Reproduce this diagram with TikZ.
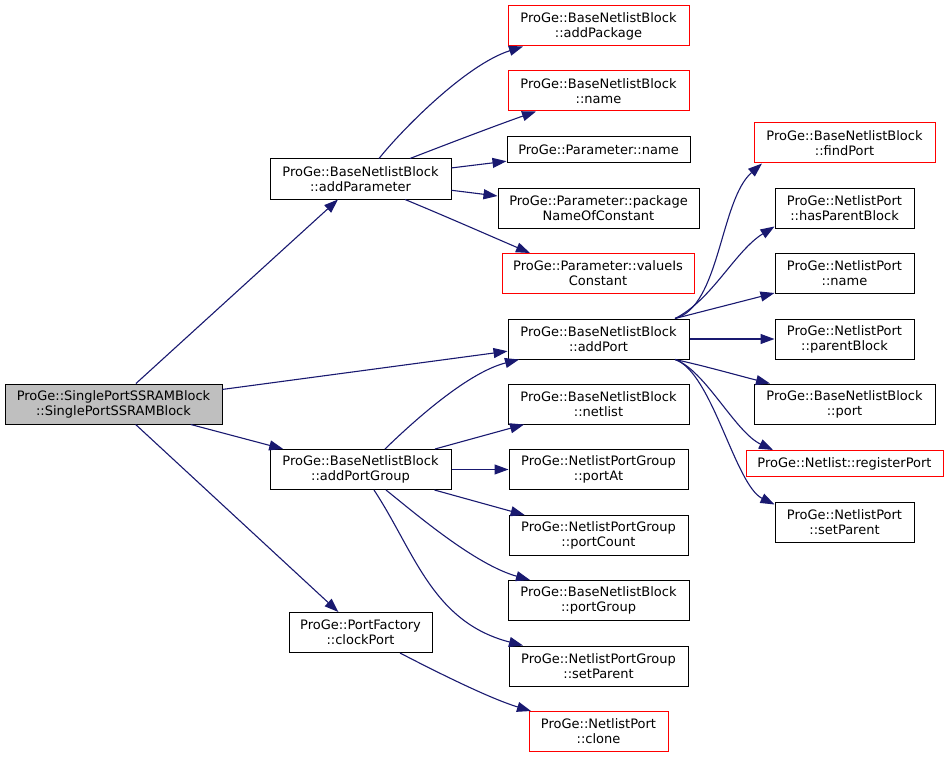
\documentclass[tikz,border=0pt]{standalone}
\usepackage{fontspec}
\setmainfont{DejaVu Sans}
\usetikzlibrary{arrows.meta}
\definecolor{edgeblue}{HTML}{191970}
\definecolor{rootgray}{HTML}{BFBFBF}
\begin{document}
\begin{tikzpicture}[x=1pt,y=-1pt,
  box/.style={draw=black, line width=1pt, fill=white, inner sep=0pt, align=center,
    font=\fontsize{13}{15}\selectfont, minimum height=40pt},
  redbox/.style={box, draw=red},
  rootbox/.style={box, fill=rootgray},
  call/.style={draw=edgeblue, line width=1.1pt, -{Triangle[length=14pt,width=10pt]}}]
\useasboundingbox (0,0) rectangle (948,757);

% column 0
\node[rootbox, minimum width=217pt] (main) at (113.5,404) {ProGe::SinglePortSSRAMBlock\\::SinglePortSSRAMBlock};
% column 1
\node[box, minimum width=181pt] (addParameter) at (360.5,179) {ProGe::BaseNetlistBlock\\::addParameter};
\node[box, minimum width=181pt] (addPortGroup) at (360.5,469.5) {ProGe::BaseNetlistBlock\\::addPortGroup};
\node[box, minimum width=143pt] (clockPort) at (360.5,632.5) {ProGe::PortFactory\\::clockPort};
% column 2
\node[redbox, minimum width=181pt] (addPackage) at (598.5,26) {ProGe::BaseNetlistBlock\\::addPackage};
\node[redbox, minimum width=181pt] (bnbname) at (598.5,91) {ProGe::BaseNetlistBlock\\::name};
\node[box, minimum width=183pt, minimum height=26pt] (paramname) at (598.5,150) {ProGe::Parameter::name};
\node[box, minimum width=201pt] (packageName) at (598.5,208.5) {ProGe::Parameter::package\\NameOfConstant};
\node[redbox, minimum width=192pt] (valueIsConstant) at (598,273.5) {ProGe::Parameter::valueIs\\Constant};
\node[box, minimum width=181pt] (addPort) at (598.5,339) {ProGe::BaseNetlistBlock\\::addPort};
\node[box, minimum width=181pt] (netlist) at (598.5,404) {ProGe::BaseNetlistBlock\\::netlist};
\node[box, minimum width=179pt] (portAt) at (598.5,469.5) {ProGe::NetlistPortGroup\\::portAt};
\node[box, minimum width=179pt] (portCount) at (598.5,535.5) {ProGe::NetlistPortGroup\\::portCount};
\node[box, minimum width=181pt] (portGroup) at (598.5,600.5) {ProGe::BaseNetlistBlock\\::portGroup};
\node[box, minimum width=179pt] (pgsetParent) at (598.5,666) {ProGe::NetlistPortGroup\\::setParent};
\node[redbox, minimum width=139pt] (clone) at (598.5,731.5) {ProGe::NetlistPort\\::clone};
% column 3
\node[redbox, minimum width=181pt] (findPort) at (844.5,143) {ProGe::BaseNetlistBlock\\::findPort};
\node[box, minimum width=139pt] (hasParentBlock) at (844.5,208) {ProGe::NetlistPort\\::hasParentBlock};
\node[box, minimum width=139pt] (npname) at (844.5,273.5) {ProGe::NetlistPort\\::name};
\node[box, minimum width=139pt] (parentBlock) at (844.5,339) {ProGe::NetlistPort\\::parentBlock};
\node[box, minimum width=181pt] (port) at (844.5,404) {ProGe::BaseNetlistBlock\\::port};
\node[redbox, minimum width=197pt, minimum height=26pt] (registerPort) at (844.5,463.5) {ProGe::Netlist::registerPort};
\node[box, minimum width=139pt] (npsetParent) at (844.5,522) {ProGe::NetlistPort\\::setParent};

% edges from main
\draw[call] (main) -- (addParameter);
\draw[call] (main) -- (addPort);
\draw[call] (main) -- (addPortGroup);
\draw[call] (main) -- (clockPort);

% edges from addParameter
\draw[call] ([xshift=18.5pt]addParameter.north) .. controls (400,132) and (465,65) .. ([xshift=-75.5pt]addPackage.south);
\draw[call] ([xshift=49.5pt]addParameter.north) .. controls (450,143) and (500,124) .. ([xshift=-62.5pt]bnbname.south);
\draw[call] (addParameter) -- (paramname);
\draw[call] (addParameter) -- (packageName);
\draw[call] ([xshift=44.5pt]addParameter.south) .. controls (445,216) and (495,238) .. ([xshift=-68pt]valueIsConstant.north);

% edges from addPortGroup
\draw[call] ([xshift=24.5pt]addPortGroup.north) .. controls (420,415) and (470,372) .. ([xshift=-79.5pt]addPort.south);
\draw[call] (addPortGroup) -- (netlist);
\draw[call] (addPortGroup) -- (portAt);
\draw[call] (addPortGroup) -- (portCount);
\draw[call] ([xshift=25.5pt]addPortGroup.south) .. controls (416.6,514.6) and (475,564.5) .. ([xshift=-68.5pt]portGroup.north);
\draw[call] ([xshift=13.5pt]addPortGroup.south) .. controls (414.5,551.5) and (432,622) .. ([xshift=-75.5pt]pgsetParent.north);

% edge from clockPort
\draw[call] ([xshift=39.5pt]clockPort.south) .. controls (439.5,673.5) and (490.5,698.7) .. ([xshift=-67.5pt]clone.north);

% edges from addPort
\draw[call] ([xshift=76.5pt]addPort.north) .. controls (720,307) and (720,200) .. ([xshift=-82.5pt]findPort.south);
\draw[call] ([xshift=76.5pt]addPort.north) .. controls (712,300) and (735,251) .. ([yshift=2pt]hasParentBlock.south west);
\draw[call] ([xshift=76.5pt]addPort.north) -- ([yshift=1pt]npname.south west);
\draw[call] (addPort) -- (parentBlock);
\draw[call] ([xshift=76.5pt]addPort.south) .. controls (705,366) and (740,376) .. ([xshift=-74.5pt]port.north);
\draw[call] ([xshift=76.5pt]addPort.south) .. controls (705,370) and (735,432) .. ([xshift=-71.5pt]registerPort.north);
\draw[call] ([xshift=76.5pt]addPort.south) .. controls (712,372) and (735,485) .. ([yshift=-3pt]npsetParent.north west);
\end{tikzpicture}
\end{document}
